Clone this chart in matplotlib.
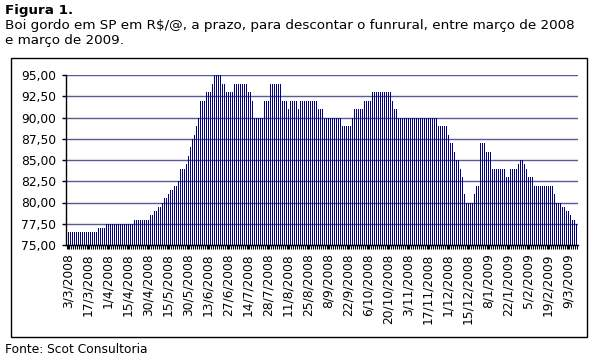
import matplotlib
matplotlib.use("Agg")
import matplotlib.pyplot as plt
from matplotlib.patches import Rectangle
from matplotlib.ticker import FixedLocator, FuncFormatter

# ---- data (R$/@ per business day, Mar 2008 - Mar 2009) ----
prices = [
    76.5, 76.5, 76.5, 76.5, 76.5, 76.5, 76.5, 76.5, 76.5, 76.5,
    76.5, 76.5, 76.5, 76.5, 76.5, 77.0, 77.0, 77.0, 77.0, 77.5,
    77.5, 77.5, 77.5, 77.5, 77.5, 77.5, 77.5, 77.5, 77.5, 77.5,
    77.5, 77.5, 77.5, 78.0, 78.0, 78.0, 78.0, 78.0, 78.0, 78.0,
    78.0, 78.5, 78.5, 79.0, 79.0, 79.5, 79.5, 80.0, 80.5, 80.5,
    81.0, 81.5, 81.5, 82.0, 82.0, 82.5, 84.0, 84.0, 84.0, 84.5,
    85.5, 86.5, 87.5, 88.0, 89.0, 90.0, 92.0, 92.0, 92.0, 93.0,
    93.0, 93.0, 94.0, 95.0, 95.0, 95.0, 95.0, 94.0, 94.0, 93.0,
    93.0, 93.0, 93.0, 94.0, 94.0, 94.0, 94.0, 94.0, 94.0, 94.0,
    93.0, 93.0, 92.0, 90.0, 90.0, 90.0, 90.0, 90.0, 92.0, 92.0,
    92.0, 94.0, 94.0, 94.0, 94.0, 94.0, 94.0, 92.0, 92.0, 92.0,
    91.0, 92.0, 92.0, 92.0, 92.0, 91.0, 92.0, 92.0, 92.0, 92.0,
    92.0, 92.0, 92.0, 92.0, 92.0, 91.0, 91.0, 91.0, 90.0, 90.0,
    90.0, 90.0, 90.0, 90.0, 90.0, 90.0, 90.0, 89.0, 89.0, 89.0,
    89.0, 89.0, 90.0, 91.0, 91.0, 91.0, 91.0, 91.0, 92.0, 92.0,
    92.0, 92.0, 93.0, 93.0, 93.0, 93.0, 93.0, 93.0, 93.0, 93.0,
    93.0, 93.0, 92.0, 91.0, 91.0, 90.0, 90.0, 90.0, 90.0, 90.0,
    90.0, 90.0, 90.0, 90.0, 90.0, 90.0, 90.0, 90.0, 90.0, 90.0,
    90.0, 90.0, 90.0, 90.0, 90.0, 89.0, 89.0, 89.0, 89.0, 89.0,
    88.0, 87.0, 87.0, 86.0, 85.0, 85.0, 84.0, 83.0, 81.0, 80.0,
    80.0, 80.0, 80.0, 81.0, 82.0, 82.0, 87.0, 87.0, 87.0, 86.0,
    86.0, 86.0, 84.0, 84.0, 84.0, 84.0, 84.0, 84.0, 84.0, 83.0,
    83.0, 84.0, 84.0, 84.0, 84.0, 84.5, 85.0, 85.0, 84.5, 84.0,
    83.0, 83.0, 83.0, 82.0, 82.0, 82.0, 82.0, 82.0, 82.0, 82.0,
    82.0, 82.0, 82.0, 81.0, 80.0, 80.0, 80.0, 79.5, 79.5, 79.0,
    79.0, 78.5, 78.0, 78.0, 77.5,
]

# one label every 10 business days
tick_labels = [
    "3/3/2008", "17/3/2008", "1/4/2008", "15/4/2008", "30/4/2008",
    "15/5/2008", "30/5/2008", "13/6/2008", "27/6/2008", "14/7/2008",
    "28/7/2008", "11/8/2008", "25/8/2008", "8/9/2008", "22/9/2008",
    "6/10/2008", "20/10/2008", "3/11/2008", "17/11/2008", "1/12/2008",
    "15/12/2008", "8/1/2009", "22/1/2009", "5/2/2009", "19/2/2009",
    "9/3/2009",
]
label_step = 10

y_ticks = [75.0, 77.5, 80.0, 82.5, 85.0, 87.5, 90.0, 92.5, 95.0]
y_base = 75.0

title_bold = "Figura 1."
title_line1 = "Boi gordo em SP em R$/@, a prazo, para descontar o funrural, entre março de 2008"
title_line2 = "e março de 2009."
source_text = "Fonte: Scot Consultoria"

# ---- figure ----
W, H = 594, 360
fig = plt.figure(figsize=(W / 100, H / 100), dpi=100)
plt.rcParams['font.family'] = ['DejaVu Sans']
FS = 8.8
FT = 9.7

def fx(px):
    return px / W

def fy(py):
    return 1 - py / H

# outer frame
fig.patches.append(Rectangle((fx(10.5), fy(336.5)), fx(576), (336.5 - 57.5) / H,
                             transform=fig.transFigure, fill=False,
                             edgecolor='black', linewidth=1.0))

fig.text(fx(5), fy(14), title_bold, fontsize=FT, fontweight='bold',
         ha='left', va='baseline')
fig.text(fx(5), fy(29), title_line1, fontsize=FT, ha='left', va='baseline')
fig.text(fx(5), fy(44), title_line2, fontsize=FT, ha='left', va='baseline')
fig.text(fx(5), fy(353), source_text, fontsize=FS, ha='left', va='baseline')

ax = fig.add_axes([fx(66), fy(245), fx(578 - 66), (245 - 75) / H])

x = list(range(len(prices)))
# thin (1 px) columns, one per business day
ax.vlines(x, y_base, prices, colors='#000080', linewidth=0.72,
          antialiased=False, zorder=3)

ax.set_ylim(75, 95)
ax.set_xlim(-1, len(prices))
ax.set_yticks(y_ticks)
ax.yaxis.set_major_formatter(FuncFormatter(lambda v, p: f"{v:.2f}".replace(".", ",")))
ax.grid(axis='y', color='#5A5A96', linewidth=1.0, zorder=1)
ax.set_axisbelow(True)

ax.set_xticks([i * label_step for i in range(len(tick_labels))])
ax.set_xticklabels(tick_labels, rotation=90, fontsize=FS)
ax.xaxis.set_minor_locator(FixedLocator([i - 0.5 for i in range(len(prices) + 1)]))

ax.tick_params(axis='y', direction='out', length=3, width=1, pad=4, labelsize=FS, color='black')
ax.tick_params(axis='x', which='major', direction='out', length=3, width=0.8, pad=3)
ax.tick_params(axis='x', which='minor', direction='out', length=3, width=0.8)

for s in ['top', 'right']:
    ax.spines[s].set_visible(False)
for s in ['left', 'bottom']:
    ax.spines[s].set_color('black')
    ax.spines[s].set_linewidth(1.0)
    ax.spines[s].set_zorder(4)

fig.savefig("out.png", dpi=100)
